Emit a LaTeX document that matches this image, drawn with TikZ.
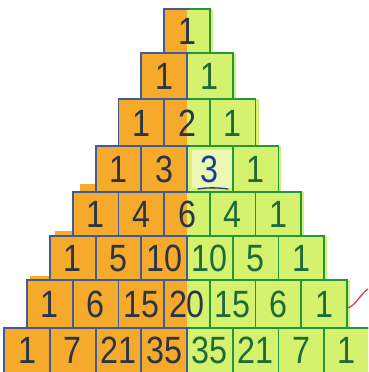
\documentclass[tikz,border=0pt]{standalone}
\usepackage{fontspec}
\setmainfont{Liberation Sans}
\usepackage{graphicx}
\definecolor{orng}{HTML}{F5AA2C}
\definecolor{lime}{HTML}{D4F26E}
\definecolor{palelime}{HTML}{EAF8B4}
\definecolor{blueline}{HTML}{3D5C9C}
\definecolor{greenline}{HTML}{23963E}
\definecolor{inkL}{HTML}{2C3445}
\definecolor{inkR}{HTML}{1F6A3A}
\definecolor{inkB}{HTML}{1E3C94}
\definecolor{redmark}{HTML}{C8343A}
\newcommand{\hw}[1]{\scalebox{0.85}[1]{#1}}
\begin{document}
\begin{tikzpicture}[x=1pt,y=-1pt,
  numtxt/.style={inner sep=0pt, anchor=base, font=\fontsize{38}{38}\selectfont},
  gridline/.style={line width=1.8pt}]
\useasboundingbox (0,0) rectangle (368,372);
\clip (0,0) rectangle (368,372);
\def\w{45.7}
% paint leaks
\fill[orng] (80,184) rectangle (99,194);
\fill[orng] (55,231) rectangle (75,238);
\fill[orng] (30,276) rectangle (52,282);
% fills
\foreach \r/\t/\b in {0/9/53,1/53/99,2/99/146,3/146/192,4/192/236,5/236/280,6/280/328,7/328/376}{
  \fill[orng] ({187-(\r+1)*\w/2},\t) rectangle (187,\b);
  \fill[lime] (187,\t) rectangle ({187+(\r+1)*\w/2+3},\b);
}
\fill[palelime] (192,150) rectangle (232,188);
% outlines
\foreach \r/\t/\b in {0/9/53,1/53/99,2/99/146,3/146/192,4/192/236,5/236/280,6/280/328,7/328/376}{
  \foreach \k in {0,...,\r}{
    \draw[gridline, blueline] ({187-(\r+1)*\w/2+\k*\w},\t) rectangle ({187-(\r+1)*\w/2+(\k+1)*\w},\b);
  }
}
\begin{scope}
\clip (189.5,0) rectangle (368,372);
\foreach \r/\t/\b in {0/9/53,1/53/99,2/99/146,3/146/192,4/192/236,5/236/280,6/280/328,7/328/376}{
  \foreach \k in {0,...,\r}{
    \draw[gridline, greenline] ({187-(\r+1)*\w/2+\k*\w},\t) rectangle ({187-(\r+1)*\w/2+(\k+1)*\w},\b);
  }
}
\end{scope}
% numbers
\foreach \r/\t/\b/\nums in {
  0/9/53/{1/L},
  1/53/99/{1/L,1/R},
  2/99/146/{1/L,2/L,1/R},
  3/146/192/{1/L,3/L,3/B,1/R},
  4/192/236/{1/L,4/L,6/L,4/R,1/R},
  5/236/280/{1/L,5/L,10/L,10/R,5/R,1/R},
  6/280/328/{1/L,6/L,15/L,20/L,15/R,6/R,1/R},
  7/328/372/{1/L,7/L,21/L,35/L,35/R,21/R,7/R,1/R}}{
  \foreach \n/\c [count=\k from 0] in \nums {
    \node[numtxt, text=ink\c] (n\r-\k) at ({187-\r*\w/2+\k*\w},{(\t+\b)/2+13.5}) {\hw{\n}};
  }
}
% blue underline under the blue 3
\draw[inkB, line width=1.3pt, line cap=round] (198,189) .. controls (210,187) and (220,188) .. (228,189);
% red mark
\draw[redmark, line width=1.2pt, line cap=round] (347,308) .. controls (355,307) and (360,294) .. (368,289);
\end{tikzpicture}
\end{document}
